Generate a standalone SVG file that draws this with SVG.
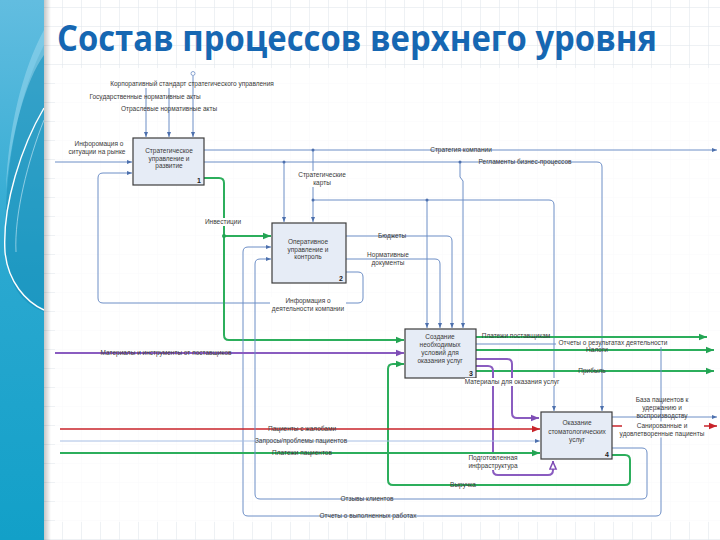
<svg xmlns="http://www.w3.org/2000/svg" width="720" height="540" viewBox="0 0 720 540">
<defs>
<pattern id="grid" x="5" y="7" width="19" height="19" patternUnits="userSpaceOnUse">
<path d="M0,0 H19 M0,0 V19" fill="none" stroke="#dde4ea" stroke-width="1"/>
</pattern>
<linearGradient id="stripe" x1="0" y1="0" x2="0" y2="1">
<stop offset="0" stop-color="#62bde0"/>
<stop offset="0.5" stop-color="#2aa8d0"/>
<stop offset="1" stop-color="#12a0c8"/>
</linearGradient>
<linearGradient id="shadow" x1="0" y1="0" x2="1" y2="0">
<stop offset="0" stop-color="#000" stop-opacity="0.22"/>
<stop offset="1" stop-color="#000" stop-opacity="0"/>
</linearGradient>
<marker id="ab" viewBox="0 0 10 10" refX="10" refY="5" markerWidth="5" markerHeight="5" orient="auto" markerUnits="userSpaceOnUse"><path d="M0,1 L10,5 L0,9 z" fill="#4d70ad"/></marker>
<marker id="ag" viewBox="0 0 10 10" refX="10" refY="5" markerWidth="8" markerHeight="8" orient="auto" markerUnits="userSpaceOnUse"><path d="M0,1 L10,5 L0,9 z" fill="#23a453"/></marker>
<marker id="ap" viewBox="0 0 10 10" refX="10" refY="5" markerWidth="8" markerHeight="8" orient="auto" markerUnits="userSpaceOnUse"><path d="M0,1 L10,5 L0,9 z" fill="#7e4db5"/></marker>
<marker id="aph" viewBox="0 0 10 10" refX="10" refY="5" markerWidth="9" markerHeight="9" orient="auto" markerUnits="userSpaceOnUse"><path d="M1,1.5 L9,5 L1,8.5 z" fill="#fff" stroke="#7e4db5" stroke-width="1.6"/></marker>
<marker id="ar" viewBox="0 0 10 10" refX="10" refY="5" markerWidth="8" markerHeight="8" orient="auto" markerUnits="userSpaceOnUse"><path d="M0,1 L10,5 L0,9 z" fill="#c8232a"/></marker>
<style>
.t{font-family:"Liberation Sans",Arial,sans-serif;font-size:6.5px;fill:#3a3a3a;text-anchor:middle}
.n{font-family:"Liberation Sans",Arial,sans-serif;font-size:7px;font-weight:bold;fill:#222;text-anchor:end}
.box{fill:#e6ecf6;stroke:#3c3c3c;stroke-width:1.2}
.b{fill:none;stroke:#6d8ec6;stroke-width:1;marker-end:url(#ab)}
.lb{fill:none;stroke:#a7bee4;stroke-width:1;marker-end:url(#ab)}
.g{fill:none;stroke:#2cae5c;stroke-width:2;marker-end:url(#ag)}
.p{fill:none;stroke:#8a5cc0;stroke-width:2;marker-end:url(#ap)}
.r{fill:none;stroke:#c8232a;stroke-width:1.6;marker-end:url(#ar)}
.lbg{fill:#fff}
</style>
</defs>

<!-- page background -->
<rect x="0" y="0" width="720" height="540" fill="#ffffff"/>
<rect x="0" y="0" width="720" height="540" fill="url(#grid)"/>
<rect x="55" y="68" width="665" height="454" fill="#ffffff" fill-opacity="0.8"/>

<!-- left decorative stripe -->
<g id="stripe-deco">
<rect x="0" y="0" width="44" height="540" fill="url(#stripe)"/>
<path d="M44,45 C18,95 2,175 6,255 C9,290 26,305 44,312 Z" fill="#1188b2" fill-opacity="0.45"/>
<path d="M44,30 C22,70 8,130 6,190 C12,130 26,80 44,55 Z" fill="#a9def2" fill-opacity="0.45"/>
<path d="M44,108 C22,145 2,205 5,252 C8,282 26,302 44,310" fill="none" stroke="#ffffff" stroke-width="1.4"/>
<path d="M44,120 C28,160 14,215 16,252" fill="none" stroke="#dff3fb" stroke-width="0.8" stroke-opacity="0.7"/>
<rect x="44" y="0" width="7" height="540" fill="url(#shadow)"/>
</g>

<!-- title -->
<text x="57" y="51" font-family="'Open Sans','Noto Sans','Liberation Sans',sans-serif" font-size="35" font-weight="bold" fill="#1667b2" textLength="600" lengthAdjust="spacingAndGlyphs">Состав процессов верхнего уровня</text>

<!-- connectors -->
<g id="connectors">
<path class="b" d="M146,88 V137"/>
<path class="b" d="M169,88 V137"/>
<path class="b" d="M193,76 V137"/>
<circle cx="193" cy="73.5" r="2" fill="none" stroke="#6d8ec6" stroke-width="0.8"/>
<path class="b" d="M55,162 H132"/>
<path class="b" d="M346,272 H358 Q363,272 363,277 V298 Q363,303 358,303 H103 Q98,303 98,298 V178 Q98,173 103,173 H132"/>
<path class="b" d="M204,150 H717"/>
<path class="b" d="M313,150 V222"/>
<path class="b" d="M313,200 H549 Q554,200 554,205 V411"/>
<path class="b" d="M427,200 V328"/>
<path class="b" d="M204,162 H597 Q602,162 602,167 V411"/>
<path class="b" d="M284,162 V222"/>
<path class="b" d="M460,162 V177 L463,181 V328"/>
<path class="g" d="M204,178 H219 Q224,178 224,183 V335 Q224,340 229,340 H404"/>
<path class="g" d="M224,236 H271"/>
<path class="b" d="M346,236 H447 Q452,236 452,241 V328"/>
<path class="b" d="M346,259 H435 Q440,259 440,264 V328"/>
<path class="g" d="M476,337 H707"/>
<path class="g" d="M476,350 H714"/>
<path class="g" d="M476,371 H714"/>
<path class="b" d="M476,344 H556 M661,347 V511 Q661,516 656,516 H248 Q243,516 243,511 V252 Q243,247 248,247 H271"/>
<path class="p" d="M55,353 H404"/>
<path class="p" d="M476,359 H507 Q512,359 512,364 V413 Q512,418 517,418 H539"/>
<path class="p" d="M476,366 H488 Q493,366 493,371 V470 Q493,475 498,475 H548 Q553,475 553,470 V461" style="marker-end:url(#aph)"/>
<path class="g" d="M612,455 H625 Q630,455 630,460 V480 Q630,485 625,485 H393 Q388,485 388,480 V369 Q388,364 393,364 H404"/>
<path class="r" d="M60,429 H540"/>
<path class="lb" d="M60,441 H540"/>
<path class="g" d="M60,453 H540"/>
<path class="b" d="M612,417 H717"/>
<path class="r" d="M612,426 H717"/>
<path class="b" d="M612,448 H642 Q647,448 647,453 V494 Q647,499 642,499 H260 Q255,499 255,494 V264 Q255,259 260,259 H271"/>
<circle cx="313" cy="150" r="1.5" fill="#4d70ad"/>
<circle cx="284" cy="162" r="1.5" fill="#4d70ad"/>
<circle cx="460" cy="162" r="1.5" fill="#4d70ad"/>
<circle cx="313" cy="200" r="1.5" fill="#4d70ad"/>
<circle cx="427" cy="200" r="1.5" fill="#4d70ad"/>
<circle cx="224" cy="236" r="2" fill="#23a453"/>
</g>

<!-- nodes -->
<g id="box1">
<rect class="box" x="133" y="138" width="71" height="47"/>
<text class="t" x="169" y="153">Стратегическое</text>
<text class="t" x="169" y="160.5">управление и</text>
<text class="t" x="169" y="168">развитие</text>
<text class="n" x="201" y="183">1</text>
</g>
<g id="box2">
<rect class="box" x="272" y="223" width="74" height="60"/>
<text class="t" x="308" y="244">Оперативное</text>
<text class="t" x="308" y="251.5">управление и</text>
<text class="t" x="308" y="259">контроль</text>
<text class="n" x="343" y="281">2</text>
</g>
<g id="box3">
<rect class="box" x="405" y="329" width="71" height="49"/>
<text class="t" x="440" y="339">Создание</text>
<text class="t" x="440" y="347">необходимых</text>
<text class="t" x="440" y="355">условий для</text>
<text class="t" x="440" y="363">оказания услуг</text>
<text class="n" x="473" y="376">3</text>
</g>
<g id="box4">
<rect class="box" x="541" y="412" width="71" height="47"/>
<text class="t" x="577" y="425">Оказание</text>
<text class="t" x="577" y="434">стоматологических</text>
<text class="t" x="577" y="442">услуг</text>
<text class="n" x="609" y="457">4</text>
</g>

<!-- labels -->
<g id="labels">
<text class="t" x="192" y="86">Корпоративный стандарт стратегического управления</text>
<text class="t" x="145" y="99">Государственные нормативные акты</text>
<text class="t" x="169" y="111">Отраслевые нормативные акты</text>
<text class="t" x="99" y="146">Инфоромация о</text>
<text class="t" x="97" y="154">ситуации на рынке</text>
<text class="t" x="461" y="152">Стратегия компании</text>
<text class="t" x="525" y="164">Регламенты бизнес-процессов</text>
<rect class="lbg" x="300" y="171" width="46" height="16"/>
<text class="t" x="322" y="177">Стратегические</text>
<text class="t" x="322" y="185">карты</text>
<rect class="lbg" x="204" y="218" width="38" height="8"/>
<text class="t" x="223" y="224">Инвестиции</text>
<text class="t" x="392" y="238">Бюджеты</text>
<text class="t" x="388" y="257">Нормативные</text>
<text class="t" x="388" y="265">документы</text>
<rect class="lbg" x="270" y="297" width="76" height="16"/>
<text class="t" x="308" y="303">Информация о</text>
<text class="t" x="308" y="311">деятельности компании</text>
<text class="t" x="516" y="338">Платежи поставщикам</text>
<text class="t" x="613" y="345">Отчеты о результатах деятельности</text>
<text class="t" x="597" y="352">Налоги</text>
<text class="t" x="592" y="373">Прибыль</text>
<text class="t" x="166" y="355">Материалы и инструменты от поставщиков</text>
<rect class="lbg" x="465" y="378" width="96" height="8"/>
<text class="t" x="512" y="384">Материалы для оказания услуг</text>
<text class="t" x="662" y="402">База пациентов к</text>
<text class="t" x="662" y="410">удержанию и</text>
<text class="t" x="662" y="418">воспроизводству</text>
<rect class="lbg" x="622" y="421.5" width="82" height="16"/>
<text class="t" x="662" y="428">Санированные и</text>
<text class="t" x="662" y="436">удовлетворенные пациенты</text>
<text class="t" x="302" y="431">Пациенты с жалобами</text>
<text class="t" x="301" y="443">Запросы/проблемы пациентов</text>
<text class="t" x="302" y="455">Платежи пациентов</text>
<rect class="lbg" x="466" y="454" width="54" height="16"/>
<text class="t" x="493" y="460">Подготовленная</text>
<text class="t" x="493" y="468">инфраструктура</text>
<text class="t" x="463" y="487">Выручка</text>
<text class="t" x="367" y="501">Отзывы клиентов</text>
<text class="t" x="368" y="518">Отчеты о выполненных работах</text>
</g>
</svg>
